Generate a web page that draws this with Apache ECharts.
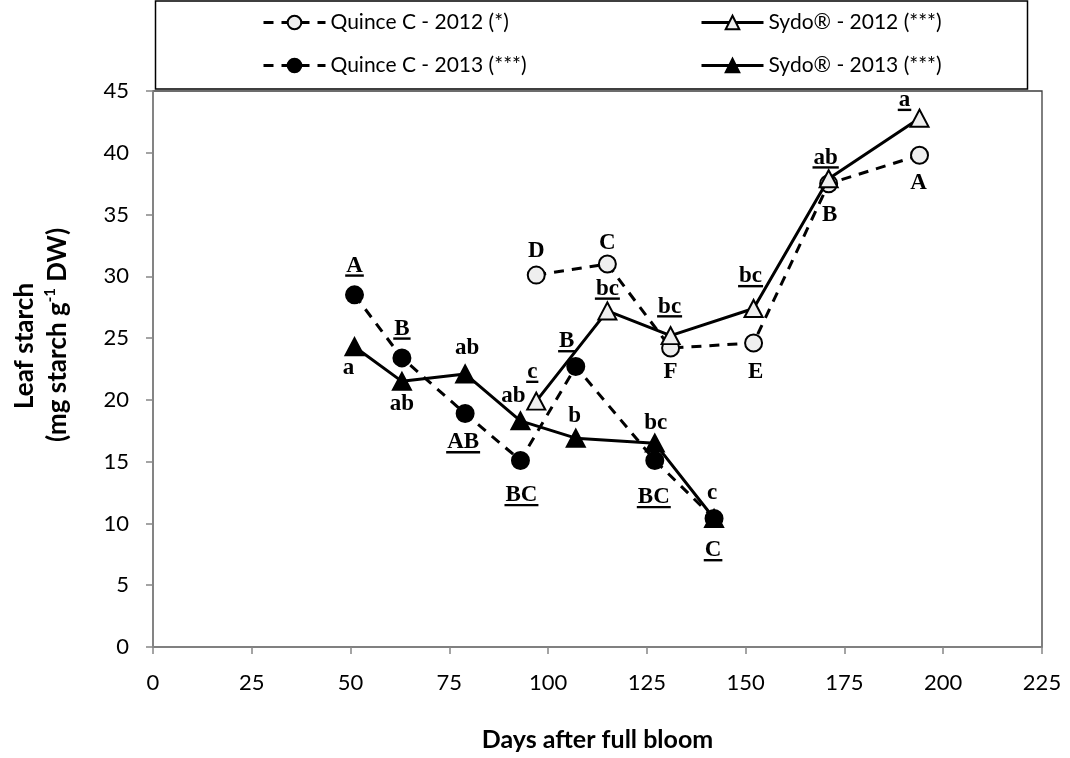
<!DOCTYPE html>
<html>
<head>
<meta charset="utf-8">
<script src="https://cdn.jsdelivr.net/npm/echarts@6/dist/echarts.min.js"></script>
<style>
  html, body { margin: 0; padding: 0; background: #fff; }
  #chart { width: 1070px; height: 758px; }
</style>
</head>
<body>
<div id="chart"></div>
<script>
// ---- data -------------------------------------------------------------
// Sampling dates, days after full bloom
const days2012 = [97, 115, 131, 152, 171, 194];
const days2013 = [51, 63, 79, 93, 107, 127, 142];

// Leaf starch (mg starch g-1 DW)
const quince2012 = [30.1, 31.0, 24.2, 24.6, 37.5, 39.8];
const sydo2012   = [19.9, 27.2, 25.2, 27.4, 37.9, 42.8];
const quince2013 = [28.5, 23.4, 18.9, 15.1, 22.7, 15.1, 10.4];
const sydo2013   = [24.3, 21.5, 22.1, 18.3, 16.9, 16.5, 10.4];

// Mean separation letters for each sampling date
const quince2012Letters = ['D', 'C', 'F', 'E', 'B', 'A'];
const sydo2012Letters   = ['c', 'bc', 'bc', 'bc', 'ab', 'a'];
const quince2013Letters = ['A', 'B', 'AB', 'BC', 'B', 'BC', 'C'];
const sydo2013Letters   = ['a', 'ab', 'ab', 'ab', 'b', 'bc', 'c'];

// Series names
const seriesNames = [
  'Quince C - 2012 (*)',
  'Sydo\u00AE - 2012 (***)',
  'Quince C - 2013 (***)',
  'Sydo\u00AE - 2013 (***)'
];

// Axis ticks
const xTickValues = [0, 25, 50, 75, 100, 125, 150, 175, 200, 225];
const yTickValues = [0, 5, 10, 15, 20, 25, 30, 35, 40, 45];

// ---- layout -----------------------------------------------------------
// Letter placement relative to its marker, in pixels [dx, dy]
const quince2012Offsets = [[0, -24], [0, -21], [0, 24], [2, 29], [1, 31], [-1, 28]];
const sydo2012Offsets   = [[-4, -29], [0, -22], [-1, -29], [-3, -32], [-3, -21], [-15, -18]];
const quince2013Offsets = [[0, -29], [0, -29], [-2, 29], [1, 35], [-9, -25], [-1, 37], [-1, 32]];
const sydo2013Offsets   = [[-6, 21], [0, 23], [2, -26], [-7, -25], [-1, -22], [1, -20], [-2, -25]];

const LETTER_FONT = 'bold 23px "Liberation Serif"';
const AXIS_FONT = 'Lato';
const OPEN_FILL = '#efefef';

const measureCtx = document.createElement('canvas').getContext('2d');
function textWidth(txt) {
  measureCtx.font = LETTER_FONT;
  return measureCtx.measureText(txt).width;
}

function pairs(xs, ys) {
  return xs.map((x, i) => [x, ys[i]]);
}

function lineSeries(name, xs, ys, dashed, symbol, filled, z) {
  return {
    type: 'line',
    name: name,
    data: pairs(xs, ys),
    z: z,
    symbol: symbol,
    symbolSize: symbol === 'circle' ? 17 : [18, 17],
    lineStyle: { color: '#000', width: 3, type: dashed ? [10, 8] : 'solid', cap: 'butt' },
    itemStyle: { color: filled ? '#000' : OPEN_FILL, borderColor: '#000', borderWidth: 2 },
    emphasis: { disabled: true },
    animation: false
  };
}

// Letters drawn next to each mean; underlined ones belong to the other rootstock group
function letterSeries(xs, ys, letters, offsets, underline) {
  return {
    type: 'custom',
    silent: true,
    z: 20,
    clip: false,
    animation: false,
    data: xs.map((x, i) => [x, ys[i], i]),
    encode: { x: 0, y: 1 },
    renderItem: function (params, api) {
      const i = api.value(2);
      const p = api.coord([api.value(0), api.value(1)]);
      const x = p[0] + offsets[i][0];
      const y = p[1] + offsets[i][1];
      const children = [{
        type: 'text',
        style: {
          text: letters[i], x: x, y: y,
          align: 'center', verticalAlign: 'middle',
          font: LETTER_FONT, fill: '#000'
        }
      }];
      if (underline) {
        const w = textWidth(letters[i]) + 2;
        children.push({
          type: 'rect',
          shape: { x: x - w / 2, y: y + 8.5, width: w, height: 2.4 },
          style: { fill: '#000' }
        });
      }
      return { type: 'group', children: children };
    }
  };
}

const chart = echarts.init(document.getElementById('chart'), null, { renderer: 'canvas' });

const legendCommon = {
  orient: 'vertical',
  top: 7,
  itemWidth: 62,
  itemHeight: 17,
  itemGap: 22,
  selectedMode: false,
  lineStyle: { width: 3 },
  textStyle: { fontFamily: AXIS_FONT, fontSize: 21, color: '#000' }
};

chart.setOption({
  backgroundColor: '#fff',
  textStyle: { fontFamily: AXIS_FONT },
  animation: false,
  legend: [
    Object.assign({ left: 257, data: [seriesNames[0], seriesNames[2]] }, legendCommon),
    Object.assign({ left: 695, data: [seriesNames[1], seriesNames[3]] }, legendCommon)
  ],
  grid: {
    left: 153, right: 28, top: 91, bottom: 111,
    show: true, borderColor: '#3c3c3c', borderWidth: 1.3, backgroundColor: 'transparent'
  },
  xAxis: {
    type: 'value', min: xTickValues[0], max: xTickValues[xTickValues.length - 1],
    interval: xTickValues[1] - xTickValues[0],
    name: 'Days after full bloom', nameLocation: 'middle', nameGap: 80,
    nameTextStyle: { fontFamily: AXIS_FONT, fontSize: 25, fontWeight: 'bold', color: '#000' },
    axisLine: { lineStyle: { color: '#868686', width: 1.5 } },
    axisTick: { length: 7, lineStyle: { color: '#868686', width: 1.5 } },
    axisLabel: { fontSize: 22, color: '#000', margin: 25 },
    splitLine: { show: false }
  },
  yAxis: {
    type: 'value', min: yTickValues[0], max: yTickValues[yTickValues.length - 1],
    interval: yTickValues[1] - yTickValues[0],
    axisLine: { show: true, lineStyle: { color: '#868686', width: 1.5 } },
    axisTick: { show: true, length: 7, lineStyle: { color: '#868686', width: 1.5 } },
    axisLabel: { fontSize: 22, color: '#000', margin: 24 },
    splitLine: { show: false }
  },
  graphic: [
    {
      type: 'rect', silent: true, z: 0,
      shape: { x: 155.5, y: 1, width: 872, height: 88 },
      style: { fill: 'none', stroke: '#000', lineWidth: 1.5 }
    },
    {
      type: 'text', silent: true, x: 25, y: 346, rotation: Math.PI / 2,
      style: {
        text: 'Leaf starch', align: 'center', verticalAlign: 'middle',
        font: 'bold 26px Lato', fill: '#000'
      }
    },
    {
      type: 'text', silent: true, x: 58, y: 335, rotation: Math.PI / 2,
      style: {
        text: '{b|(mg starch g}{s|-1}{b| DW)}', align: 'center', verticalAlign: 'middle',
        rich: {
          b: { fontFamily: AXIS_FONT, fontSize: 26, fontWeight: 'bold', color: '#000', lineHeight: 30 },
          s: { fontFamily: AXIS_FONT, fontSize: 15, fontWeight: 'bold', color: '#000', verticalAlign: 'top', lineHeight: 30, padding: [0, 0, 12, 0] }
        }
      }
    }
  ],
  series: [
    lineSeries(seriesNames[0], days2012, quince2012, true, 'circle', false, 2),
    lineSeries(seriesNames[1], days2012, sydo2012, false, 'triangle', false, 3),
    lineSeries(seriesNames[3], days2013, sydo2013, false, 'triangle', true, 4),
    lineSeries(seriesNames[2], days2013, quince2013, true, 'circle', true, 5),
    letterSeries(days2012, quince2012, quince2012Letters, quince2012Offsets, false),
    letterSeries(days2012, sydo2012, sydo2012Letters, sydo2012Offsets, true),
    letterSeries(days2013, quince2013, quince2013Letters, quince2013Offsets, true),
    letterSeries(days2013, sydo2013, sydo2013Letters, sydo2013Offsets, false)
  ]
});
</script>
</body>
</html>
